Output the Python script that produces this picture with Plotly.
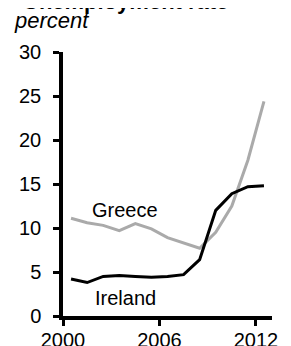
import plotly.graph_objects as go

years = list(range(2000, 2013))
greece = [11.1, 10.6, 10.3, 9.7, 10.5, 9.9, 8.9, 8.3, 7.7, 9.5, 12.5, 17.7, 24.4]
ireland = [4.2, 3.8, 4.5, 4.6, 4.5, 4.4, 4.5, 4.7, 6.4, 12.0, 13.9, 14.7, 14.8]
x_ticks = [2000, 2006, 2012]
y_ticks = [0, 5, 10, 15, 20, 25, 30]

# annual values plotted at mid-year
xs = [y + 0.5 for y in years]

FONT = "Liberation Sans, Arial, Helvetica, sans-serif"

fig = go.Figure()
fig.add_trace(go.Scatter(x=xs, y=greece, mode="lines", name="Greece",
                         line=dict(color="#aaaaaa", width=3)))
fig.add_trace(go.Scatter(x=xs, y=ireland, mode="lines", name="Ireland",
                         line=dict(color="#000000", width=3)))

fig.update_layout(
    width=291, height=346,
    margin=dict(l=55, r=27, t=44, b=38),
    paper_bgcolor="white", plot_bgcolor="white",
    showlegend=False,
    font=dict(family=FONT, size=20, color="black"),
)
fig.update_xaxes(range=[2000, 2013], tickvals=x_ticks, ticks="outside",
                 ticklen=6, tickwidth=2.5, tickcolor="black",
                 showline=True, linecolor="black", linewidth=3.5,
                 showgrid=False, zeroline=False, automargin=False,
                 tickfont=dict(size=20), ticklabelstandoff=-3)
fig.update_yaxes(range=[0, 30], tickvals=y_ticks, ticks="outside",
                 ticklen=6, tickwidth=2.5, tickcolor="black",
                 showline=True, linecolor="black", linewidth=3.5,
                 showgrid=False, zeroline=False, automargin=False,
                 tickfont=dict(size=20), ticklabelstandoff=8)

fig.add_annotation(text="<b>Unemployment rate</b>", xref="paper", yref="paper",
                   x=-0.2, y=1.135, xanchor="left", yanchor="bottom",
                   showarrow=False, font=dict(size=22))
fig.add_annotation(text="<i>percent</i>", xref="paper", yref="paper",
                   x=-0.244, y=1.121, xanchor="left", yanchor="middle",
                   showarrow=False, font=dict(size=22))
fig.add_annotation(text="Greece", x=2003.86, y=12.05, xanchor="center",
                   yanchor="middle", showarrow=False, font=dict(size=20))
fig.add_annotation(text="Ireland", x=2003.86, y=2.1, xanchor="center",
                   yanchor="middle", showarrow=False, font=dict(size=20))

fig.write_html("out.html")
